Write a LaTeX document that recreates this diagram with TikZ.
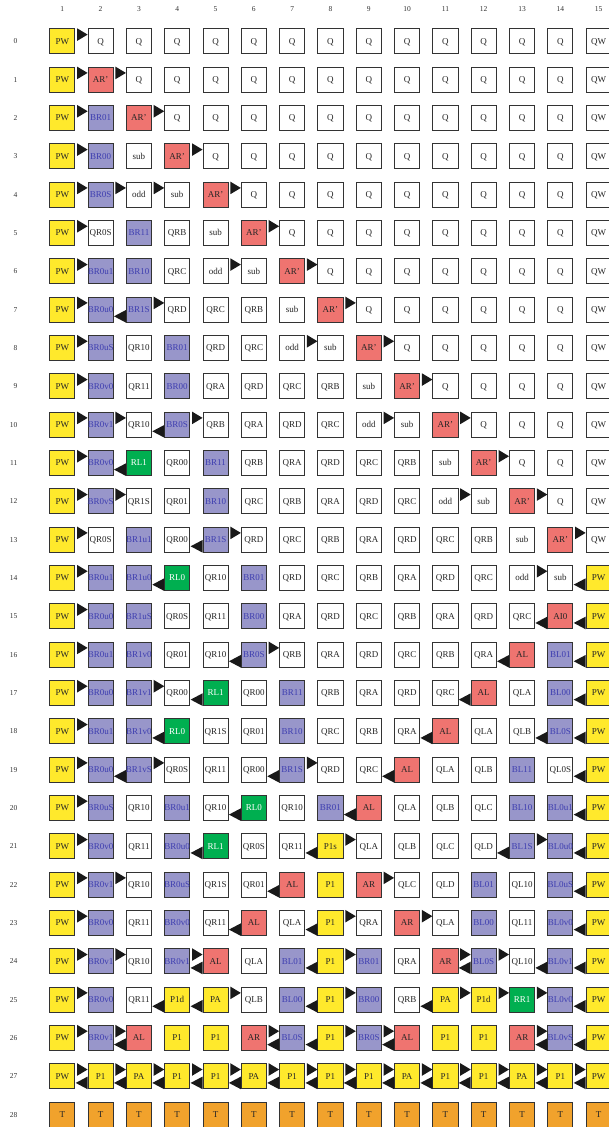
\documentclass[tikz,border=0pt]{standalone}
\usepackage{fontspec}
\setmainfont{Liberation Serif}
\usetikzlibrary{calc}
\definecolor{cyel}{HTML}{FFE92C}
\definecolor{cred}{HTML}{EF7470}
\definecolor{cblu}{HTML}{9896CA}
\definecolor{cbtx}{HTML}{3E3EB0}
\definecolor{cgrn}{HTML}{00AF50}
\definecolor{corg}{HTML}{F1A22C}
\definecolor{cbrd}{HTML}{333333}
\tikzset{
 cell/.style={draw=cbrd, line width=0.9pt, minimum size=25.1pt, inner sep=0pt,
   text height=6pt, text depth=0pt, font=\fontsize{9}{10}\selectfont, text=black!85},
 cw/.style={cell, fill=white},
 cy/.style={cell, fill=cyel},
 cr/.style={cell, fill=cred},
 cb/.style={cell, fill=cblu, text=cbtx},
 cg/.style={cell, fill=cgrn, text=white},
 co/.style={cell, fill=corg},
 hdr/.style={font=\fontsize{7.5}{9}\selectfont, text=black!80, inner sep=0pt},
 tri/.style={fill=black!90},
}
\newcommand\cellrow[2]{\foreach \s/\t [count=\c] in {#2}{\node[\s] (n-#1-\c) at ({62.3pt+(\c-1)*38.31pt},{-41.3pt-#1*38.33pt}) {\makebox[0pt]{\t}};}}
\newcommand\rarr[2]{\pgfmathtruncatemacro\nxt{#2+1}\fill[tri] ([xshift=1.8pt]n-#1-#2.north east) -- ([xshift=1.8pt,yshift=-12.6pt]n-#1-#2.north east) -- ([yshift=-6.3pt]n-#1-\nxt.north west) -- cycle;}
\newcommand\larr[2]{\pgfmathtruncatemacro\nxt{#2+1}\fill[tri] ([xshift=0.4pt,yshift=6.3pt]n-#1-#2.south east) -- (n-#1-\nxt.south west) -- ([yshift=12.6pt]n-#1-\nxt.south west) -- cycle;}
\newcommand\rtri[2]{\foreach \k in {#2}{\rarr{#1}{\k}}}
\newcommand\ltri[2]{\foreach \k in {#2}{\larr{#1}{\k}}}
\begin{document}
\begin{tikzpicture}
\fill[white] (0,0) rectangle (609pt,-1127pt);
\useasboundingbox (0,0) rectangle (609pt,-1127pt);
\foreach \c in {1,...,15}{\node[hdr] (h-\c) at ({62.3pt+(\c-1)*38.31pt},-9pt) {\c};}
\foreach \r in {0,...,28}{\node[hdr, anchor=east] (l-\r) at (17.5pt,{-41.3pt-\r*38.33pt}) {\r};}
\cellrow{0}{cy/PW,cw/Q,cw/Q,cw/Q,cw/Q,cw/Q,cw/Q,cw/Q,cw/Q,cw/Q,cw/Q,cw/Q,cw/Q,cw/Q,cw/QW}
\cellrow{1}{cy/PW,cr/AR',cw/Q,cw/Q,cw/Q,cw/Q,cw/Q,cw/Q,cw/Q,cw/Q,cw/Q,cw/Q,cw/Q,cw/Q,cw/QW}
\cellrow{2}{cy/PW,cb/BR01,cr/AR',cw/Q,cw/Q,cw/Q,cw/Q,cw/Q,cw/Q,cw/Q,cw/Q,cw/Q,cw/Q,cw/Q,cw/QW}
\cellrow{3}{cy/PW,cb/BR00,cw/sub,cr/AR',cw/Q,cw/Q,cw/Q,cw/Q,cw/Q,cw/Q,cw/Q,cw/Q,cw/Q,cw/Q,cw/QW}
\cellrow{4}{cy/PW,cb/BR0S,cw/odd,cw/sub,cr/AR',cw/Q,cw/Q,cw/Q,cw/Q,cw/Q,cw/Q,cw/Q,cw/Q,cw/Q,cw/QW}
\cellrow{5}{cy/PW,cw/QR0S,cb/BR11,cw/QRB,cw/sub,cr/AR',cw/Q,cw/Q,cw/Q,cw/Q,cw/Q,cw/Q,cw/Q,cw/Q,cw/QW}
\cellrow{6}{cy/PW,cb/BR0u1,cb/BR10,cw/QRC,cw/odd,cw/sub,cr/AR',cw/Q,cw/Q,cw/Q,cw/Q,cw/Q,cw/Q,cw/Q,cw/QW}
\cellrow{7}{cy/PW,cb/BR0u0,cb/BR1S,cw/QRD,cw/QRC,cw/QRB,cw/sub,cr/AR',cw/Q,cw/Q,cw/Q,cw/Q,cw/Q,cw/Q,cw/QW}
\cellrow{8}{cy/PW,cb/BR0uS,cw/QR10,cb/BR01,cw/QRD,cw/QRC,cw/odd,cw/sub,cr/AR',cw/Q,cw/Q,cw/Q,cw/Q,cw/Q,cw/QW}
\cellrow{9}{cy/PW,cb/BR0v0,cw/QR11,cb/BR00,cw/QRA,cw/QRD,cw/QRC,cw/QRB,cw/sub,cr/AR',cw/Q,cw/Q,cw/Q,cw/Q,cw/QW}
\cellrow{10}{cy/PW,cb/BR0v1,cw/QR10,cb/BR0S,cw/QRB,cw/QRA,cw/QRD,cw/QRC,cw/odd,cw/sub,cr/AR',cw/Q,cw/Q,cw/Q,cw/QW}
\cellrow{11}{cy/PW,cb/BR0v0,cg/RL1,cw/QR00,cb/BR11,cw/QRB,cw/QRA,cw/QRD,cw/QRC,cw/QRB,cw/sub,cr/AR',cw/Q,cw/Q,cw/QW}
\cellrow{12}{cy/PW,cb/BR0vS,cw/QR1S,cw/QR01,cb/BR10,cw/QRC,cw/QRB,cw/QRA,cw/QRD,cw/QRC,cw/odd,cw/sub,cr/AR',cw/Q,cw/QW}
\cellrow{13}{cy/PW,cw/QR0S,cb/BR1u1,cw/QR00,cb/BR1S,cw/QRD,cw/QRC,cw/QRB,cw/QRA,cw/QRD,cw/QRC,cw/QRB,cw/sub,cr/AR',cw/QW}
\cellrow{14}{cy/PW,cb/BR0u1,cb/BR1u0,cg/RL0,cw/QR10,cb/BR01,cw/QRD,cw/QRC,cw/QRB,cw/QRA,cw/QRD,cw/QRC,cw/odd,cw/sub,cy/PW}
\cellrow{15}{cy/PW,cb/BR0u0,cb/BR1uS,cw/QR0S,cw/QR11,cb/BR00,cw/QRA,cw/QRD,cw/QRC,cw/QRB,cw/QRA,cw/QRD,cw/QRC,cr/AI0,cy/PW}
\cellrow{16}{cy/PW,cb/BR0u1,cb/BR1v0,cw/QR01,cw/QR10,cb/BR0S,cw/QRB,cw/QRA,cw/QRD,cw/QRC,cw/QRB,cw/QRA,cr/AL,cb/BL01,cy/PW}
\cellrow{17}{cy/PW,cb/BR0u0,cb/BR1v1,cw/QR00,cg/RL1,cw/QR00,cb/BR11,cw/QRB,cw/QRA,cw/QRD,cw/QRC,cr/AL,cw/QLA,cb/BL00,cy/PW}
\cellrow{18}{cy/PW,cb/BR0u1,cb/BR1v0,cg/RL0,cw/QR1S,cw/QR01,cb/BR10,cw/QRC,cw/QRB,cw/QRA,cr/AL,cw/QLA,cw/QLB,cb/BL0S,cy/PW}
\cellrow{19}{cy/PW,cb/BR0u0,cb/BR1vS,cw/QR0S,cw/QR11,cw/QR00,cb/BR1S,cw/QRD,cw/QRC,cr/AL,cw/QLA,cw/QLB,cb/BL11,cw/QL0S,cy/PW}
\cellrow{20}{cy/PW,cb/BR0uS,cw/QR10,cb/BR0u1,cw/QR10,cg/RL0,cw/QR10,cb/BR01,cr/AL,cw/QLA,cw/QLB,cw/QLC,cb/BL10,cb/BL0u1,cy/PW}
\cellrow{21}{cy/PW,cb/BR0v0,cw/QR11,cb/BR0u0,cg/RL1,cw/QR0S,cw/QR11,cy/P1s,cw/QLA,cw/QLB,cw/QLC,cw/QLD,cb/BL1S,cb/BL0u0,cy/PW}
\cellrow{22}{cy/PW,cb/BR0v1,cw/QR10,cb/BR0uS,cw/QR1S,cw/QR01,cr/AL,cy/P1,cr/AR,cw/QLC,cw/QLD,cb/BL01,cw/QL10,cb/BL0uS,cy/PW}
\cellrow{23}{cy/PW,cb/BR0v0,cw/QR11,cb/BR0v0,cw/QR11,cr/AL,cw/QLA,cy/P1,cw/QRA,cr/AR,cw/QLA,cb/BL00,cw/QL11,cb/BL0v0,cy/PW}
\cellrow{24}{cy/PW,cb/BR0v1,cw/QR10,cb/BR0v1,cr/AL,cw/QLA,cb/BL01,cy/P1,cb/BR01,cw/QRA,cr/AR,cb/BL0S,cw/QL10,cb/BL0v1,cy/PW}
\cellrow{25}{cy/PW,cb/BR0v0,cw/QR11,cy/P1d,cy/PA,cw/QLB,cb/BL00,cy/P1,cb/BR00,cw/QRB,cy/PA,cy/P1d,cg/RR1,cb/BL0v0,cy/PW}
\cellrow{26}{cy/PW,cb/BR0v1,cr/AL,cy/P1,cy/P1,cr/AR,cb/BL0S,cy/P1,cb/BR0S,cr/AL,cy/P1,cy/P1,cr/AR,cb/BL0vS,cy/PW}
\cellrow{27}{cy/PW,cy/P1,cy/PA,cy/P1,cy/P1,cy/PA,cy/P1,cy/P1,cy/P1,cy/PA,cy/P1,cy/P1,cy/PA,cy/P1,cy/PW}
\cellrow{28}{co/T,co/T,co/T,co/T,co/T,co/T,co/T,co/T,co/T,co/T,co/T,co/T,co/T,co/T,co/T}
\rtri{0}{1}
\rtri{1}{1,2}
\rtri{2}{1,3}
\rtri{3}{1,4}
\rtri{4}{1,2,3,5}
\rtri{5}{1,6}
\rtri{6}{1,5,7}
\rtri{7}{1,3,8} \ltri{7}{2}
\rtri{8}{1,7,9}
\rtri{9}{1,10}
\rtri{10}{1,2,4,9,11} \ltri{10}{3}
\rtri{11}{1,12} \ltri{11}{2}
\rtri{12}{1,2,11,13}
\rtri{13}{1,5,14} \ltri{13}{4}
\rtri{14}{1,13} \ltri{14}{3,14}
\rtri{15}{1} \ltri{15}{13,14}
\rtri{16}{1,6} \ltri{16}{5,12,14}
\rtri{17}{1,3} \ltri{17}{4,11,14}
\rtri{18}{1} \ltri{18}{3,10,13,14}
\rtri{19}{1,3,7} \ltri{19}{2,6,9,14}
\rtri{20}{1} \ltri{20}{5,8,14}
\rtri{21}{1,8,13} \ltri{21}{4,7,12,14}
\rtri{22}{1,2,9} \ltri{22}{6,14}
\rtri{23}{1,8,10} \ltri{23}{5,7,14}
\rtri{24}{1,2,4,8,11,12} \ltri{24}{4,7,11,13,14}
\rtri{25}{1,5,8,11,12,13} \ltri{25}{3,4,7,10,14}
\rtri{26}{1,2,6,8,9,13} \ltri{26}{2,6,7,9,13,14}
\rtri{27}{1,...,14} \ltri{27}{1,...,14}
\end{tikzpicture}
\end{document}
